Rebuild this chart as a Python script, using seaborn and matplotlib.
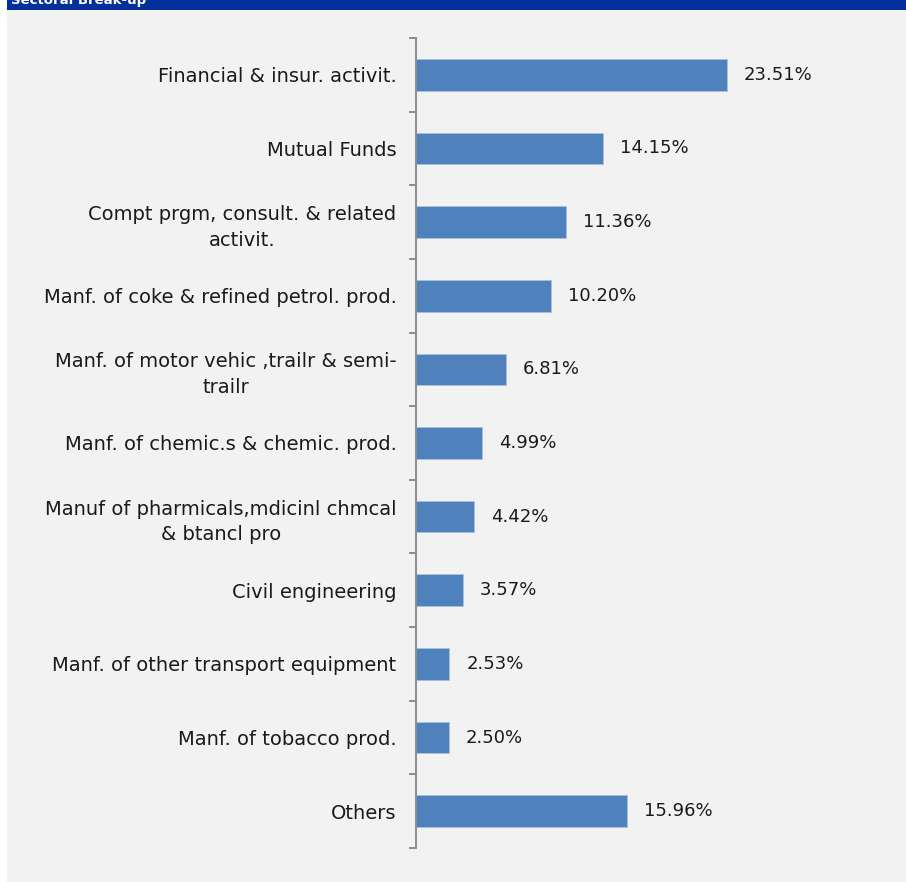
import matplotlib
matplotlib.use("Agg")
import matplotlib.pyplot as plt
from matplotlib.patches import Rectangle
from matplotlib.ticker import FixedLocator
import pandas as pd
import seaborn as sns

sectors = [
    "Financial & insur. activit.",
    "Mutual Funds",
    "Compt prgm, consult. & related\nactivit.",
    "Manf. of coke & refined petrol. prod.",
    "Manf. of motor vehic ,trailr & semi-\ntrailr",
    "Manf. of chemic.s & chemic. prod.",
    "Manuf of pharmicals,mdicinl chmcal\n& btancl pro",
    "Civil engineering",
    "Manf. of other transport equipment",
    "Manf. of tobacco prod.",
    "Others",
]
weights = [23.51, 14.15, 11.36, 10.20, 6.81, 4.99, 4.42, 3.57, 2.53, 2.50, 15.96]
value_labels = ["23.51%", "14.15%", "11.36%", "10.20%", "6.81%", "4.99%",
                "4.42%", "3.57%", "2.53%", "2.50%", "15.96%"]
title = "Sectoral Break-up"

df = pd.DataFrame({"sector": sectors, "weight": weights})

sns.set_theme(style="white")
plt.rcParams["font.family"] = ["DejaVu Sans"]

W, H = 906, 882
fig = plt.figure(figsize=(W / 100, H / 100), dpi=100)
fig.patch.set_facecolor("white")

# grey panel and blue header band
fig.patches.append(Rectangle((7 / W, 0), 1 - 7 / W, 1 - 10 / H,
                             transform=fig.transFigure, facecolor="#f2f2f2",
                             edgecolor="none", zorder=-2))
fig.patches.append(Rectangle((7 / W, 1 - 10 / H), 1 - 7 / W, 10 / H,
                             transform=fig.transFigure, facecolor="#03309a",
                             edgecolor="none", zorder=-1))
fig.text(11 / W, 1 - 4 / H, title, color="white", fontsize=9.5,
         fontweight="bold", va="baseline", ha="left")

left, right = 416 / W, 879 / W
top, bottom = 1 - 38 / H, 1 - 848 / H
ax = fig.add_axes([left, bottom, right - left, top - bottom])
ax.set_facecolor("none")

sns.barplot(data=df, x="weight", y="sector", orient="h", color="#4f81bd",
            saturation=1, width=0.43, edgecolor="#a9c0de", linewidth=0.6,
            ax=ax)

ax.set_xlim(0, 35)
ax.set_ylim(len(sectors) - 0.5, -0.5)
ax.set_xlabel("")
ax.set_ylabel("")
ax.set_xticks([])

for s in ["top", "right", "bottom"]:
    ax.spines[s].set_visible(False)
ax.spines["left"].set_color("#8c8c8c")
ax.spines["left"].set_linewidth(1.4)

ax.tick_params(axis="y", which="major", length=0, pad=14, labelsize=14,
               labelcolor="#1a1a1a")
ax.yaxis.set_minor_locator(FixedLocator([i - 0.5 for i in range(len(sectors) + 1)]))
ax.tick_params(axis="y", which="minor", length=5, width=1.4, color="#8c8c8c",
               direction="out", left=True)
for lbl in ax.get_yticklabels():
    lbl.set_multialignment("center")
    lbl.set_linespacing(1.45)

for i, (v, t) in enumerate(zip(weights, value_labels)):
    ax.annotate(t, xy=(v, i), xytext=(12, 0), textcoords="offset points",
                va="center", ha="left", fontsize=13, color="#1a1a1a")

fig.savefig("out.png", dpi=100)
